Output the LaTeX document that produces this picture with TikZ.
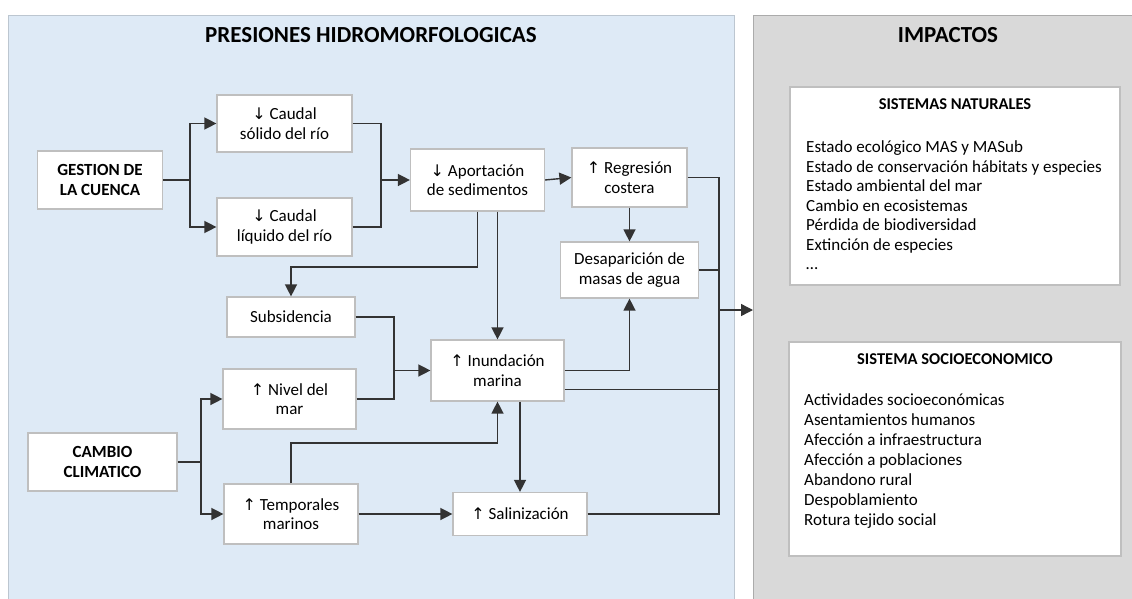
\documentclass[tikz,border=0pt]{standalone}
\usepackage{fontspec}
\setmainfont{Carlito}
\newfontfamily\symf{DejaVu Sans}
\usetikzlibrary{arrows.meta,calc}
\definecolor{bluebg}{HTML}{DEEAF6}
\definecolor{blueline}{HTML}{BCC6D0}
\definecolor{graybg}{HTML}{D9D9D9}
\definecolor{grayline}{HTML}{ABABAB}
\definecolor{boxline}{HTML}{BFBFBF}
\definecolor{linegray}{HTML}{333333}
\newcommand{\arrdn}{{\symf\fontsize{16}{16}\selectfont ↓}}
\newcommand{\arrup}{{\symf\fontsize{16}{16}\selectfont ↑}}
\begin{document}
\begin{tikzpicture}[x={(1pt,0)},y={(0,-1pt)},
  panelblue/.style={draw=blueline,fill=bluebg,line width=1pt,inner sep=0pt},
  panelgray/.style={draw=grayline,fill=graybg,line width=1pt,inner sep=0pt},
  box/.style={draw=boxline,fill=white,line width=1.2pt,inner sep=0pt,align=center,font=\fontsize{17}{19.5}\selectfont},
  boldbox/.style={box,font=\fontsize{17}{19.5}\selectfont\bfseries},
  ttl/.style={font=\fontsize{23}{27}\selectfont\bfseries,inner sep=0pt,anchor=base},
  hdr/.style={font=\fontsize{16.5}{19}\selectfont\bfseries,inner sep=0pt,anchor=base},
  listtxt/.style={font=\fontsize{17}{19.5}\selectfont,inner sep=0pt,anchor=base west},
  conn/.style={draw=linegray,line width=1.4pt},
  arr/.style={conn,-{Triangle[length=12pt,width=12pt]}}]
\useasboundingbox (0,0) rectangle (1132,599);
% panels
\node[panelblue,anchor=north west,minimum width=726pt,minimum height=600pt] (pres) at (8,15) {};
\node[panelgray,anchor=north west,minimum width=400pt,minimum height=600pt] (imp) at (753,15) {};
\node[ttl] (prest) at (371,43) {PRESIONES HIDROMORFOLOGICAS};
\node[ttl] (impt) at (948,43) {IMPACTOS};
% nodes
\node[boldbox,minimum width=125pt,minimum height=58pt] (gest) at (100,180) {GESTION DE\\LA CUENCA};
\node[box,minimum width=135pt,minimum height=57pt] (csol) at (284.5,123.5) {\arrdn\ Caudal\\sólido del río};
\node[box,minimum width=135pt,minimum height=58pt] (cliq) at (284.5,227) {\arrdn\ Caudal\\líquido del río};
\node[box,minimum width=134pt,minimum height=62pt] (apor) at (477.5,180) {\arrdn\ Aportación\\de sedimentos};
\node[box,minimum width=115pt,minimum height=59pt] (regr) at (629.5,177.5) {\arrup\ Regresión\\costera};
\node[box,minimum width=138pt,minimum height=56pt] (desa) at (629.5,270) {Desaparición de\\masas de agua};
\node[box,minimum width=128pt,minimum height=40pt] (subs) at (291,317) {Subsidencia};
\node[box,minimum width=133pt,minimum height=60pt] (nivel) at (289.5,399) {\arrup\ Nivel del\\mar};
\node[box,minimum width=133pt,minimum height=61pt] (inund) at (497.5,370.5) {\arrup\ Inundación\\marina};
\node[boldbox,minimum width=149pt,minimum height=58pt] (cambio) at (102.5,462) {CAMBIO\\CLIMATICO};
\node[box,minimum width=134pt,minimum height=60pt] (temp) at (291,514) {\arrup\ Temporales\\marinos};
\node[box,minimum width=134pt,minimum height=43pt] (sal) at (520,514) {\arrup\ Salinización};
% impact boxes
\node[box,minimum width=330pt,minimum height=198pt] (natbox) at (955,186) {};
\node[box,minimum width=332pt,minimum height=214pt] (socbox) at (955,449) {};
\node[hdr] (nath) at (955,110) {SISTEMAS NATURALES};
\node[hdr] (soch) at (955,364) {SISTEMA SOCIOECONOMICO};
\foreach \t [count=\i] in {Estado ecológico MAS y MASub,Estado de conservación hábitats y especies,Estado ambiental del mar,Cambio en ecosistemas,Pérdida de biodiversidad,Extinción de especies}
  \node[listtxt] (nat\i) at (806,{152.5+19.5*(\i-1)}) {\t};
\node[listtxt] (nat7) at (806,269.5) {\ldots};
\foreach \t [count=\i] in {Actividades socioeconómicas,Asentamientos humanos,Afección a infraestructura,Afección a poblaciones,Abandono rural,Despoblamiento,Rotura tejido social}
  \node[listtxt] (soc\i) at (804,{405.5+20*(\i-1)}) {\t};
% coordinates
\coordinate (sg) at (190,180);
\coordinate (mc) at (381,180);
\coordinate (ap1) at (291,267);
\coordinate (sn) at (394,370.5);
\coordinate (cc) at (201,462);
\coordinate (tp) at (497.5,443);
\coordinate (col) at (719,310);
\coordinate (ie) at ([yshift=12pt]inund.south east);
% connectors
\draw[conn] (gest.east) -- (sg);
\draw[arr] (sg) |- (csol.west);
\draw[arr] (sg) |- (cliq.west);
\draw[conn] (csol.east) -| (mc);
\draw[conn] (cliq.east) -| (mc);
\draw[arr] (mc) -- (apor.west);
\draw[arr] (apor.east) -- (regr.west);
\draw[arr] (regr.south) -- (desa.north);
\draw[conn] (regr.east) -| (col);
\draw[conn] (desa.east) -- (desa.east -| col);
\draw[arr] (apor.south) |- (ap1) -- (subs.north);
\draw[arr] (apor.south -| inund.north) -- (inund.north);
\draw[conn] (subs.east) -| (sn);
\draw[conn] (nivel.east) -| (sn);
\draw[arr] (sn) -- (inund.west);
\draw[conn] (cambio.east) -- (cc);
\draw[arr] (cc) |- (nivel.west);
\draw[arr] (cc) |- (temp.west);
\draw[arr] (temp.north) |- (tp) -- (inund.south);
\draw[arr] (temp.east) -- (sal.west);
\draw[arr] (inund.south -| sal.north) -- (sal.north);
\draw[arr] (inund.east) -| (desa.south);
\draw[conn] (ie) -- (ie -| col);
\draw[conn] (sal.east) -| (col);
\draw[arr] (col) -- (col -| imp.west);
\end{tikzpicture}
\end{document}
